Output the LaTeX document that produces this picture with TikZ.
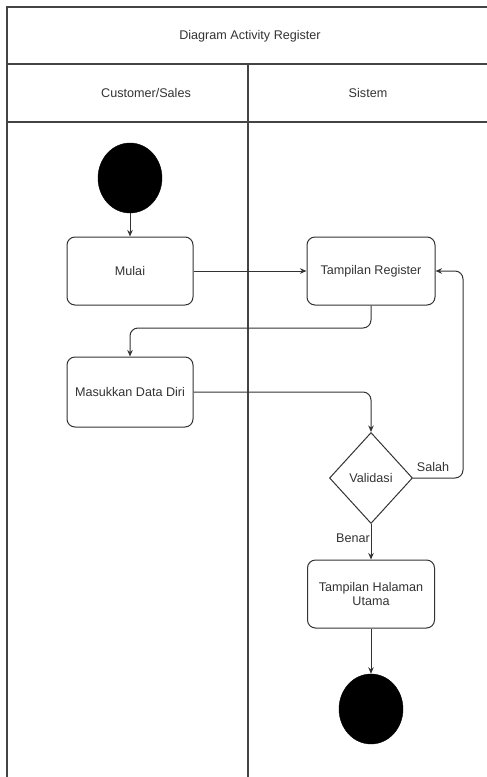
\documentclass[tikz,border=0pt]{standalone}
\usepackage{fontspec}
\setmainfont{Liberation Sans}
\usetikzlibrary{shapes.geometric,arrows.meta}
\definecolor{ink}{HTML}{333333}
\definecolor{frame}{HTML}{444444}
\begin{document}
\begin{tikzpicture}[x=1pt,y=-1pt,
  font=\fontsize{12.6}{14.5}\selectfont,
  every node/.style={text=ink},
  lane/.style={draw=frame,line width=1.4pt},
  action/.style={draw=ink,line width=1pt,rounded corners=8pt,inner sep=2pt,align=center},
  decision/.style={draw=ink,line width=1pt,diamond,inner sep=0pt,minimum width=83pt,minimum height=91pt,shape aspect=0.91},
  terminal/.style={fill=black,draw=black,ellipse,inner sep=0pt,minimum width=64pt,minimum height=70pt},
  flow/.style={draw=ink,line width=1pt,-{Stealth[length=6.5pt,width=5.5pt]},rounded corners=8pt}]
\useasboundingbox (0,0) rectangle (487,777);
% swimlane frame
\draw[lane] (487,7) -- (7,7) -- (7,777);
\draw[lane] (7,64) -- (487,64);
\draw[lane] (7,122) -- (487,122);
\draw[lane] (248,64) -- (248,777);
\node (title) at (250,36) {Diagram Activity Register};
\node (laneA) at (146,93) {Customer/Sales};
\node (laneB) at (368,93) {Sistem};
% activity nodes
\node[terminal] (start) at (130,178) {};
\node[action,minimum width=126pt,minimum height=68pt] (mulai) at (130,271) {Mulai};
\node[action,minimum width=128pt,minimum height=68pt] (treg) at (371,271) {Tampilan Register};
\node[action,minimum width=126pt,minimum height=70pt] (masuk) at (130,392) {Masukkan Data Diri};
\node[decision] (val) at (371,478) {Validasi};
\node[action,minimum width=127pt,minimum height=68pt] (home) at (371,594) {Tampilan Halaman\\Utama};
\node[terminal] (finish) at (371,709) {};
% connectors
\draw[flow] (start) -- (mulai);
\draw[flow] (mulai.east) -- (treg.west);
\draw[flow] (treg.south) -- (treg.south |- 0,328) -- (masuk.north |- 0,328) -- (masuk.north);
\draw[flow] (masuk.east) -| (val.north);
\draw[flow] (val.east) -- ++(50,0) |- (treg.east);
\draw[flow] (val.south) -- (home.north);
\draw[flow] (home.south) -- (finish.north);
% guard labels
\node (salah) at (433,467) {Salah};
\node (benar) at (353,538) {Benar};
\end{tikzpicture}
\end{document}
